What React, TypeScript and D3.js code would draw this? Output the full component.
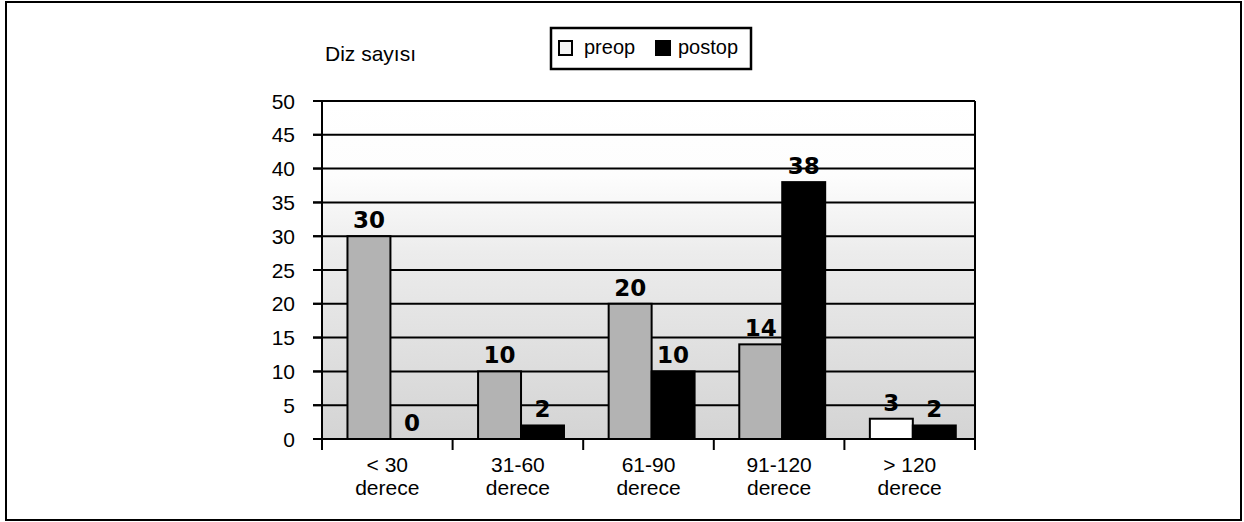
import React from "react";
import * as d3 from "d3";

const categories = ["< 30|derece", "31-60|derece", "61-90|derece", "91-120|derece", "> 120|derece"];
const seriesNames = ["preop", "postop"];
const preopValues = [30, 10, 20, 14, 3];
const postopValues = [0, 2, 10, 38, 2];
const yTicks = [0, 5, 10, 15, 20, 25, 30, 35, 40, 45, 50];
const yAxisTitle = "Diz sayısı";

const W = 1244;
const H = 522;
const plot = { left: 322, right: 975, top: 101, bottom: 439 };
const FONT = "'Liberation Sans', Arial, sans-serif";
const BOLD = "'DejaVu Sans', sans-serif";

export default function App() {
  const y = d3.scaleLinear().domain([0, 50]).range([plot.bottom, plot.top]);
  const x = d3.scaleBand<string>().domain(categories).range([plot.left, plot.right]).paddingInner(0).paddingOuter(0);
  const xs = d3
    .scaleBand<string>()
    .domain(seriesNames)
    .range([0, x.bandwidth()])
    .paddingInner(0)
    .paddingOuter(0.52)
    .align(0.57);

  const series = [
    { name: "preop", values: preopValues },
    { name: "postop", values: postopValues },
  ];
  const preopFill = (i: number) => (i === categories.length - 1 ? "#ffffff" : "#b3b3b3");

  const boundaries = categories.map((c) => x(c) as number).concat([plot.right]);

  return (
    <svg width={W} height={H} style={{ position: "absolute", left: 0, top: 0, background: "#fff" }}>
      <defs>
        <linearGradient id="bg" x1="0" y1="0" x2="0" y2="1">
          <stop offset="0%" stopColor="#ffffff" />
          <stop offset="22%" stopColor="#fdfdfd" />
          <stop offset="45%" stopColor="#ececec" />
          <stop offset="100%" stopColor="#d4d4d4" />
        </linearGradient>
        <filter id="grain" x="0" y="0" width="100%" height="100%">
          <feTurbulence type="fractalNoise" baseFrequency="0.9" numOctaves="1" seed="3" result="n" />
          <feColorMatrix type="saturate" values="0" in="n" result="g" />
          <feComponentTransfer in="g" result="g2">
            <feFuncA type="discrete" tableValues="0 0 0 0.25 0.5" />
          </feComponentTransfer>
          <feComposite in="g2" in2="SourceGraphic" operator="in" result="c" />
          <feMerge>
            <feMergeNode in="SourceGraphic" />
          </feMerge>
        </filter>
      </defs>

      {/* outer frame */}
      <rect x={6} y={2} width={1235} height={518} fill="none" stroke="#000" strokeWidth={2} />

      {/* plot background */}
      <rect
        x={plot.left}
        y={plot.top}
        width={plot.right - plot.left}
        height={plot.bottom - plot.top}
        fill="url(#bg)"
      />

      {/* gridlines */}
      {yTicks
        .filter((t) => t > 0)
        .map((t) => (
          <line key={"g" + t} x1={plot.left - 9} x2={plot.right} y1={y(t)} y2={y(t)} stroke="#000" strokeWidth={2} />
        ))}

      {/* bars */}
      {categories.map((c, i) => (
        <g key={"c" + i} transform={`translate(${x(c)},0)`}>
          {series.map((s) => {
            const v = s.values[i];
            const bx = xs(s.name) as number;
            const bw = xs.bandwidth();
            const top = y(v);
            return (
              <g key={s.name}>
                {v > 0 && (
                  <rect
                    x={bx}
                    y={top}
                    width={bw}
                    height={plot.bottom - top}
                    fill={s.name === "preop" ? preopFill(i) : "#000"}
                    stroke="#000"
                    strokeWidth={2}
                  />
                )}
                <text
                  x={bx + bw / 2}
                  y={top - 8}
                  textAnchor="middle"
                  fontFamily={BOLD}
                  fontWeight="bold"
                  fontSize={23}
                  fill="#000"
                >
                  {v}
                </text>
              </g>
            );
          })}
        </g>
      ))}

      {/* y axis */}
      <line x1={plot.left} x2={plot.left} y1={plot.top} y2={plot.bottom + 10} stroke="#000" strokeWidth={2} />
      <line x1={plot.right} x2={plot.right} y1={plot.top} y2={plot.bottom + 10} stroke="#000" strokeWidth={2} />
      {yTicks.map((t) => (
        <g key={"t" + t}>
          <line x1={plot.left - 9} x2={plot.left} y1={y(t)} y2={y(t)} stroke="#000" strokeWidth={2} />
          <text
            x={295}
            y={y(t)}
            dy="0.36em"
            textAnchor="end"
            fontFamily={FONT}
            fontSize={21}
            fill="#000"
          >
            {t}
          </text>
        </g>
      ))}

      {/* x axis */}
      <line x1={plot.left - 9} x2={plot.right} y1={plot.bottom} y2={plot.bottom} stroke="#000" strokeWidth={2} />
      {boundaries.map((b, i) => (
        <line key={"b" + i} x1={b} x2={b} y1={plot.bottom} y2={plot.bottom + 11} stroke="#000" strokeWidth={2} />
      ))}
      {categories.map((c, i) => {
        const [l1, l2] = c.split("|");
        const cx = (x(c) as number) + x.bandwidth() / 2;
        return (
          <text key={"x" + i} textAnchor="middle" fontFamily={FONT} fontSize={21} fill="#000">
            <tspan x={cx} y={472}>
              {l1}
            </tspan>
            <tspan x={cx} y={495}>
              {l2}
            </tspan>
          </text>
        );
      })}

      {/* y axis title */}
      <text x={325} y={61} fontFamily={FONT} fontSize={21} fill="#000">
        {yAxisTitle}
      </text>

      {/* legend */}
      <rect x={551} y={28} width={200} height={41} fill="#fff" stroke="#000" strokeWidth={2.5} />
      <rect x={559} y={41} width={13} height={14} fill="#f4f4f4" stroke="#000" strokeWidth={2} />
      <text x={584} y={54} fontFamily={FONT} fontSize={20} fill="#000">
        {seriesNames[0]}
      </text>
      <rect x={655} y={40} width={16} height={16} fill="#000" />
      <text x={678} y={54} fontFamily={FONT} fontSize={20} fill="#000">
        {seriesNames[1]}
      </text>
    </svg>
  );
}
